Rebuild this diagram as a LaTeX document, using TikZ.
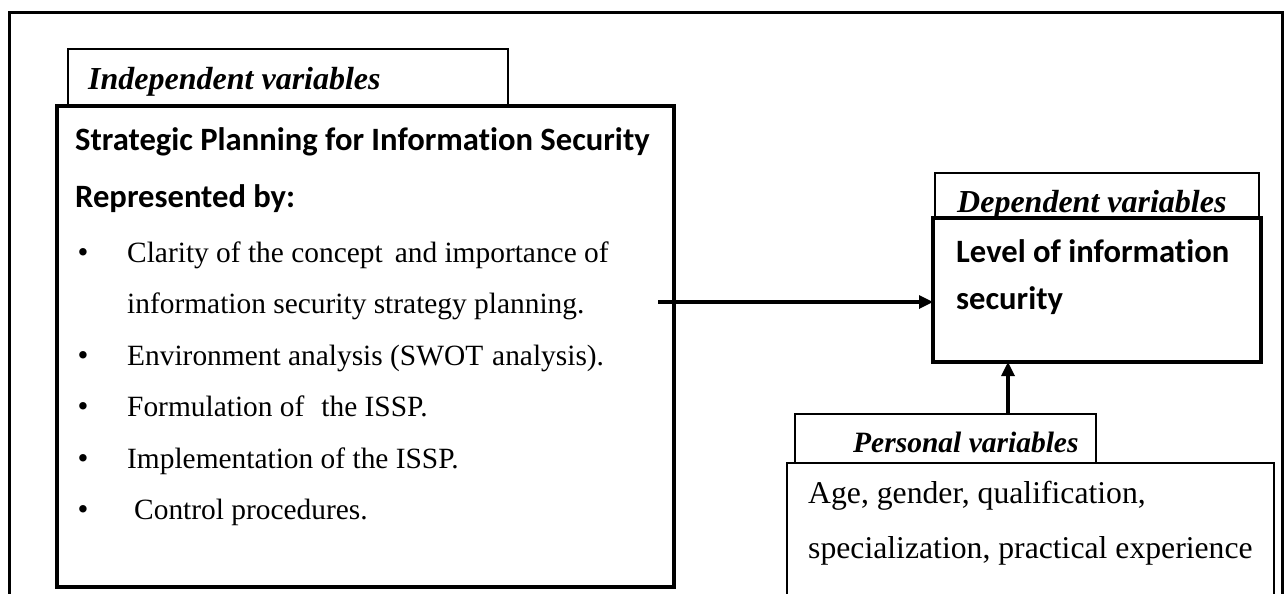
\documentclass[tikz,border=0pt]{standalone}
\usepackage{fontspec}
\setmainfont{Liberation Serif}
\newfontfamily\headfont[Ligatures=NoCommon]{Carlito}
\usetikzlibrary{arrows.meta}

\tikzset{
  outerframe/.style={line width=3pt},
  box/.style={draw, rectangle, inner sep=0pt, outer sep=0pt, anchor=north west, fill=white},
  tabbox/.style={box, line width=1.4pt},
  mainbox/.style={box, line width=3.6pt},
  thinbox/.style={box, line width=1.8pt},
  body/.style={anchor=base west, inner sep=0pt, font=\fontsize{29.4}{36}\selectfont},
  side/.style={anchor=base west, inner sep=0pt, font=\fontsize{31.7}{38}\selectfont},
  head/.style={anchor=base west, inner sep=0pt, font=\headfont\bfseries\fontsize{32.6}{38}\selectfont},
  tabtext/.style={anchor=base west, inner sep=0pt, font=\bfseries\itshape\fontsize{32}{38}\selectfont},
  smalltab/.style={tabtext, font=\bfseries\itshape\fontsize{29.5}{36}\selectfont},
  bullet/.style={anchor=base, inner sep=0pt, font=\fontsize{31}{36}\selectfont},
  link/.style={line width=3.2pt, -{Triangle[length=14pt,width=13pt]}},
}

\begin{document}
\begin{tikzpicture}[x=1pt,y=-1pt]
\useasboundingbox (0,0) rectangle (1286,594);
\fill[white] (0,0) rectangle (1286,594);

% frame open at the bottom
\draw[outerframe] (9,600) -- (9,13) -- (1282,13) -- (1282,600);

% independent variables
\node[tabbox, minimum width=440pt, minimum height=57pt] (itab) at (68,49) {};
\node[mainbox, minimum width=617pt, minimum height=481pt] (ibox) at (57,106) {};
\node[tabtext] (itabt) at (88,89) {Independent variables};
\node[head] (ih1) at (75,150) {Strategic Planning for Information Security};
\node[head] (ih2) at (75,207) {Represented by:};

\node[bullet] (b1) at (83,262) {\textbullet};
\node[body] (t1) at (127,262) {Clarity of the concept\hspace{12pt}and importance of};
\node[body] (t1b) at (127,313.5) {information security strategy planning.};
\node[bullet] (b2) at (83,365) {\textbullet};
\node[body] (t2) at (127,365) {Environment analysis (SWOT\hspace{9pt}analysis).};
\node[bullet] (b3) at (83,416.5) {\textbullet};
\node[body] (t3) at (127,416.5) {Formulation of\hspace{17pt}the ISSP.};
\node[bullet] (b4) at (83,468) {\textbullet};
\node[body] (t4) at (127,468) {Implementation of the ISSP.};
\node[bullet] (b5) at (83,519.5) {\textbullet};
\node[body] (t5) at (134,519.5) {Control procedures.};

% dependent variables
\node[tabbox, minimum width=324pt, minimum height=45pt] (dtab) at (935,173) {};
\node[mainbox, minimum width=328pt, minimum height=144pt] (dbox) at (933,218) {};
\node[tabtext] (dtabt) at (957,212) {Dependent variables};
\node[head] (d1) at (956,262) {Level of information};
\node[head] (d2) at (956,309) {security};

% personal variables
\node[tabbox, minimum width=301pt, minimum height=49pt] (ptab) at (795,414) {};
\node[thinbox, minimum width=487pt, minimum height=180pt] (pbox) at (787,463) {};
\node[smalltab] (ptabt) at (853,452) {Personal variables};
\node[side] (p1) at (808,503) {Age, gender, qualification,};
\node[side] (p2) at (808,558) {specialization, practical experience};

% connectors
\coordinate (hstart) at (658,302);
\draw[link] (hstart) -- (hstart -| dbox.west);
\coordinate (vstart) at (1008,414);
\draw[link] (vstart) -- (vstart |- dbox.south);
\end{tikzpicture}
\end{document}
